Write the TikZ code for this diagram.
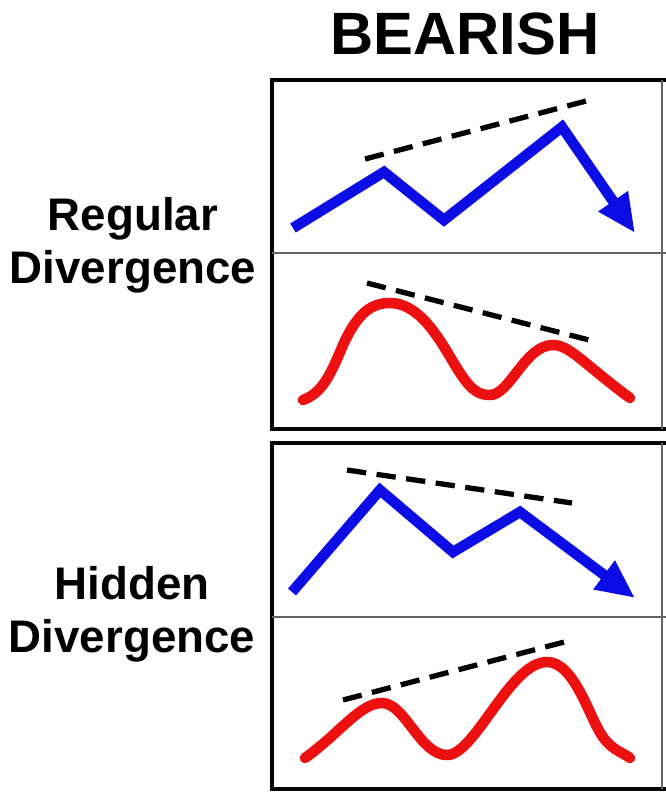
\documentclass[tikz,border=0pt]{standalone}
\usepackage{fontspec}
\setmainfont{Liberation Sans}
\usepackage{tikz}
\usetikzlibrary{arrows.meta}
\definecolor{pricebl}{RGB}{12,12,228}
\definecolor{oscred}{RGB}{236,16,16}

\begin{document}
\begin{tikzpicture}[
  x=0.02cm, y=-0.02cm,
  headtext/.style={font=\fontsize{34}{40}\selectfont\bfseries, anchor=base, inner sep=0pt},
  sidetext/.style={font=\fontsize{26}{30}\selectfont\bfseries, align=center, inner sep=0pt},
  panelbox/.style={draw, line width=2.4pt},
  divider/.style={draw=black!60, line width=0.7pt},
  price/.style={draw=pricebl, line width=6pt, -{Triangle[length=22pt, width=19pt]}},
  osc/.style={draw=oscred, line width=6pt, line cap=round},
  trend/.style={draw, line width=3pt, dash pattern=on 11pt off 6pt}
]
\useasboundingbox (0,0) rectangle (666,796);
\clip (0,0) rectangle (666,796);

\node[headtext] (bearish) at (465,54) {BEARISH};
\node[sidetext] (regular) at (133,245) {Regular\\Divergence};
\node[sidetext] (hidden) at (132,614) {Hidden\\Divergence};

\draw[panelbox] (272,80) rectangle (680,429);
\draw[divider] (272,253) -- (680,253);
\draw[divider] (662,80) -- (662,429);
\draw[panelbox] (272,443) rectangle (680,789);
\draw[divider] (272,617) -- (680,617);
\draw[divider] (662,443) -- (662,789);

\draw[price] (293,228) -- (384,172) -- (444,220) -- (562,127) -- (635,233);
\draw[trend] (365,159) -- (590,100);
\draw[osc] (303,400) .. controls (322,393) and (330,376) .. (343,345)
  .. controls (358,312) and (372,303) .. (390,303)
  .. controls (420,303) and (440,340) .. (455,365)
  .. controls (470,390) and (478,395) .. (490,395)
  .. controls (510,395) and (525,345) .. (553,345)
  .. controls (570,345) and (585,365) .. (630,398);
\draw[trend] (367,283) -- (593,341);

\draw[price] (292,592) -- (380,490) -- (453,552) -- (520,512) -- (635,598);
\draw[trend] (347,470) -- (572,503);
\draw[osc] (305,758) .. controls (340,733) and (360,703) .. (382,703)
  .. controls (405,703) and (420,755) .. (447,755)
  .. controls (475,755) and (510,662) .. (547,662)
  .. controls (575,662) and (590,720) .. (603,737)
  .. controls (612,750) and (622,752) .. (630,758);
\draw[trend] (343,700) -- (568,641);
\end{tikzpicture}
\end{document}
